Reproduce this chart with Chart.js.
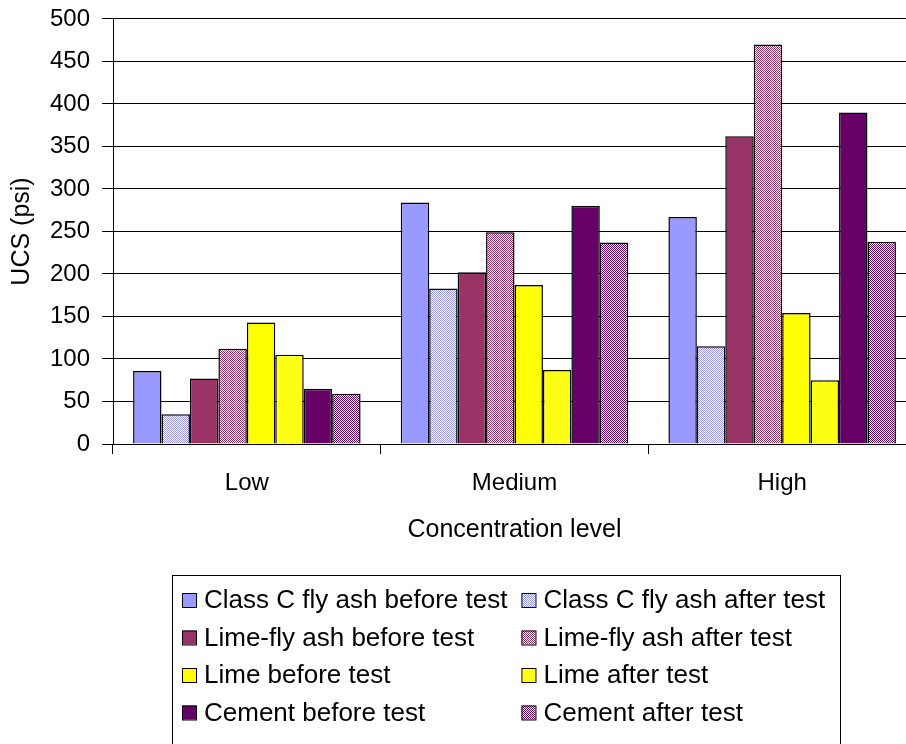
<!DOCTYPE html>
<html>
<head>
<meta charset="utf-8">
<script src="https://cdn.jsdelivr.net/npm/chart.js@4"></script>
<style>
  body { margin: 0; background: #fff; }
  #wrap { width: 906px; height: 744px; overflow: hidden; position: relative; }
  canvas { display: block; }
</style>
</head>
<body>
<div id="wrap"><canvas id="ucsChart" width="920" height="760"></canvas></div>
<script>
// data
const categories = ["Low", "Medium", "High"];
const seriesNames = [
    "Class C fly ash before test", "Class C fly ash after test",
    "Lime-fly ash before test", "Lime-fly ash after test",
    "Lime before test", "Lime after test",
    "Cement before test", "Cement after test"
];
const classCBefore = [86, 284, 267];
const classCAfter = [35, 183, 115];
const limeFlyBefore = [77, 202, 362];
const limeFlyAfter = [112, 249, 470];
const limeBefore = [143, 187, 154];
const limeAfter = [105, 87, 75];
const cementBefore = [65, 280, 390];
const cementAfter = [59, 237, 238];
const yTicks = [0, 50, 100, 150, 200, 250, 300, 350, 400, 450, 500];

const FONT = "'Liberation Sans', Arial, sans-serif";

// small dither pattern for the "after test" bars
function makePattern(fg, bg) {
    const c = document.createElement("canvas");
    c.width = 2;
    c.height = 2;
    const g = c.getContext("2d");
    g.fillStyle = bg;
    g.fillRect(0, 0, 2, 2);
    g.fillStyle = fg;
    g.fillRect(0, 0, 1, 1);
    g.fillRect(1, 1, 1, 1);
    return g.createPattern(c, "repeat");
}

const fills = [
    "#9999FF", makePattern("#9999FF", "#FFFFFF"),
    "#993366", makePattern("#993366", "#FFFFFF"),
    "#FFFF00", makePattern("#FFFF00", "#FFFFFF"),
    "#660066", makePattern("#660066", "#FFFFFF")
];
const values = [classCBefore, classCAfter, limeFlyBefore, limeFlyAfter,
                limeBefore, limeAfter, cementBefore, cementAfter];

const datasets = values.map(function(v, i) {
    return {
        label: seriesNames[i],
        data: v,
        backgroundColor: fills[i],
        borderColor: "#000000",
        borderWidth: 1.5,
        categoryPercentage: 0.85,
        barPercentage: 1.0
    };
});

// two-column boxed legend, drawn under the chart like the original
const boxLegend = {
    id: "boxLegend",
    afterDraw(chart) {
        const ctx = chart.ctx;
        ctx.save();
        ctx.strokeStyle = "#000";
        ctx.lineWidth = 1;
        ctx.strokeRect(172.5, 575.5, 668, 200);
        ctx.font = "26px " + FONT;
        ctx.textBaseline = "middle";
        ctx.fillStyle = "#000";
        const col1 = 182;
        const col2 = col1 + 22 + ctx.measureText(seriesNames[0]).width + 14;
        const rows = [600, 637.5, 675, 712.5];
        chart.data.datasets.forEach(function(ds, i) {
            const x = i % 2 === 0 ? col1 : col2;
            const y = rows[Math.floor(i / 2)];
            ctx.fillStyle = ds.backgroundColor;
            ctx.fillRect(x, y - 7, 14, 14);
            ctx.strokeRect(x + 0.5, y - 6.5, 14, 14);
            ctx.fillStyle = "#000";
            ctx.fillText(ds.label, x + 22, y + 1);
        });
        ctx.restore();
    }
};

const ctx = document.getElementById("ucsChart").getContext("2d");
const ucsChart = new Chart(ctx, {
    type: "bar",
    data: {
        labels: categories,
        datasets: datasets
    },
    options: {
        responsive: false,
        animation: false,
        devicePixelRatio: 1,
        layout: {
            padding: { top: 0, left: 10, right: 4, bottom: 217 }
        },
        plugins: {
            legend: { display: false },
            tooltip: { enabled: false }
        },
        scales: {
            x: {
                afterFit: function(s) { s.height = 99; },
                grid: {
                    display: true,
                    drawOnChartArea: false,
                    drawTicks: true,
                    tickLength: 10,
                    color: "#000",
                    offset: true
                },
                border: { display: true, color: "#000", width: 1 },
                ticks: {
                    color: "#000",
                    padding: 15,
                    font: { family: FONT, size: 24 }
                },
                title: {
                    display: true,
                    text: "Concentration level",
                    color: "#000",
                    padding: 0,
                    font: { family: FONT, size: 25, lineHeight: 1 }
                }
            },
            y: {
                min: 0,
                max: 500,
                afterFit: function(s) { s.width = 103; },
                afterBuildTicks: function(s) {
                    s.ticks = yTicks.map(function(v) { return { value: v }; });
                },
                grid: {
                    color: "#000",
                    lineWidth: 1,
                    drawTicks: true,
                    tickLength: 11
                },
                border: { display: true, color: "#000", width: 1 },
                ticks: {
                    color: "#000",
                    padding: 12,
                    // small line height keeps the plot top near the canvas edge
                    font: { family: FONT, size: 24, lineHeight: 0.58 }
                },
                title: {
                    display: true,
                    text: "UCS (psi)",
                    color: "#000",
                    padding: 0,
                    font: { family: FONT, size: 25, lineHeight: 1 }
                }
            }
        }
    },
    plugins: [boxLegend]
});
</script>
</body>
</html>
